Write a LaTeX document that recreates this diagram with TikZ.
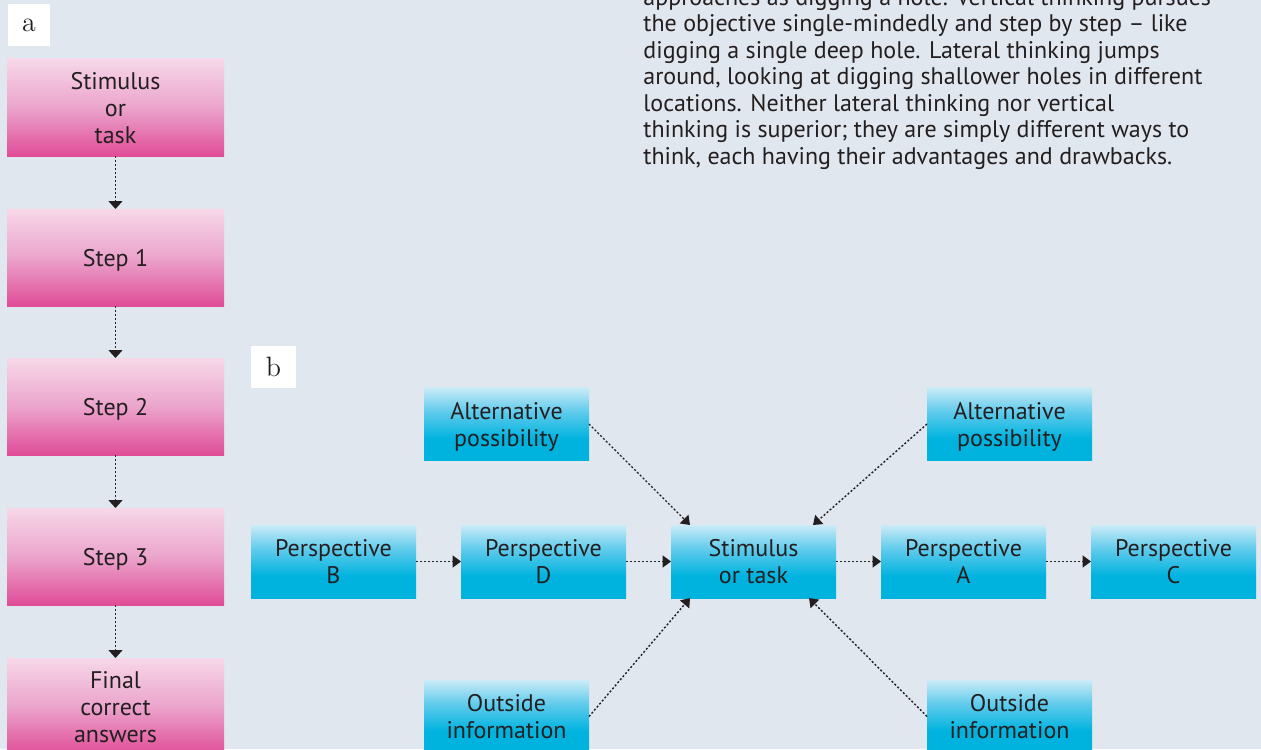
\documentclass[tikz,border=0pt]{standalone}
\usepackage{fontspec}
\setsansfont{PT Sans}
\usetikzlibrary{arrows.meta,calc}

\definecolor{bg}{HTML}{E0E7EE}
\definecolor{ink}{HTML}{231F20}
\definecolor{pinkTop}{HTML}{F7D8E8}
\definecolor{pinkMid}{HTML}{EBA4CC}
\definecolor{pinkBot}{HTML}{E04C97}
\definecolor{blueTop}{HTML}{CAEBF7}
\definecolor{blueMid}{HTML}{5CCAEB}
\definecolor{blueBot}{HTML}{00B3DF}

% vertical fades; the 25bp..75bp band is stretched over each box
\pgfdeclareverticalshading{pinkfade}{100bp}{color(0bp)=(pinkBot); color(25bp)=(pinkBot); color(50bp)=(pinkMid); color(75bp)=(pinkTop); color(100bp)=(pinkTop)}
\pgfdeclareverticalshading{bluefade}{100bp}{color(0bp)=(blueBot); color(25bp)=(blueBot); color(40bp)=(blueBot); color(58bp)=(blueMid); color(75bp)=(blueTop); color(100bp)=(blueTop)}

\tikzset{
  txt/.style={font=\sffamily\fontsize{12}{13.5}\selectfont, text=ink},
  pinkbox/.style={txt, shade, shading=pinkfade, minimum width=108.5pt, minimum height=48.5pt,
    inner sep=0pt, outer sep=0pt, align=center, text depth=0pt},
  bluebox/.style={txt, shade, shading=bluefade, minimum width=82.5pt, minimum height=36.5pt,
    inner sep=0pt, outer sep=0pt, align=center, text depth=0pt},
  tag/.style={fill=white, minimum width=21pt, minimum height=21pt, inner sep=0pt, outer sep=0pt,
    font=\rmfamily\fontsize{14}{16}\selectfont, text=ink},
  vlink/.style={draw=ink, line width=0.7pt, dash pattern=on 1pt off 1pt,
    -{Triangle[length=4pt,width=7pt]}},
  link/.style={draw=ink, line width=0.7pt, dash pattern=on 1pt off 1pt,
    -{Triangle[length=4.2pt,width=6pt]}},
}

\begin{document}
\begin{tikzpicture}[x=0.5pt,y=-0.5pt]
\useasboundingbox (0,0) rectangle (1261,749);
\clip (0,0) rectangle (1261,749);
\fill[bg] (0,0) rectangle (1261,749);

% explanatory text
\node[txt, anchor=north west, align=left, inner sep=0pt,
      font=\sffamily\fontsize{12}{13.25}\selectfont] (para) at (643,-12)
  {approaches as digging a hole. Vertical thinking pursues\\
   the objective single-mindedly and step by step – like\\
   digging a single deep hole. Lateral thinking jumps\\
   around, looking at digging shallower holes in different\\
   locations. Neither lateral thinking nor vertical\\
   thinking is superior; they are simply different ways to\\
   think, each having their advantages and drawbacks.};

% (a) vertical thinking
\node[tag] (tagA) at (29,25) {a};
\node[pinkbox] (p0) at (115.5,107.5) {Stimulus\\or\\task};
\node[pinkbox] (p1) at (115.5,257.5) {Step 1};
\node[pinkbox] (p2) at (115.5,406.5) {Step 2};
\node[pinkbox] (p3) at (115.5,556.5) {Step 3};
\node[pinkbox] (p4) at (115.5,706.5) {Final\\correct\\answers};
\draw[vlink] (p0) -- (p1);
\draw[vlink] (p1) -- (p2);
\draw[vlink] (p2) -- (p3);
\draw[vlink] (p3) -- (p4);

% (b) lateral thinking
\node[tag, minimum width=22.5pt] (tagB) at (273.5,367) {b};
\node[bluebox] (pb)   at (333.5,561.5)  {Perspective\\B};
\node[bluebox] (pd)   at (543.5,561.5)  {Perspective\\D};
\node[bluebox] (stim) at (753.5,561.5)  {Stimulus\\or task};
\node[bluebox] (pa)   at (963.5,561.5)  {Perspective\\A};
\node[bluebox] (pc)   at (1173.5,561.5) {Perspective\\C};
\node[bluebox] (altL) at (506.5,424)    {Alternative\\possibility};
\node[bluebox] (altR) at (1009.5,424)   {Alternative\\possibility};
\node[bluebox] (outL) at (506.5,716.5)  {Outside\\information};
\node[bluebox] (outR) at (1009.5,716.5) {Outside\\information};

\draw[link] (pb) -- (pd);
\draw[link] (pd) -- (stim);
\draw[link] (stim) -- (pa);
\draw[link] (pa) -- (pc);
\draw[link] (altL.east) -- ([xshift=9.5pt]stim.north west);
\draw[link] (altR.west) -- ([xshift=-11.5pt]stim.north east);
\draw[link] (outL.east) -- ([xshift=9.5pt]stim.south west);
\draw[link] (outR.west) -- ([xshift=-13.5pt]stim.south east);
\end{tikzpicture}
\end{document}
